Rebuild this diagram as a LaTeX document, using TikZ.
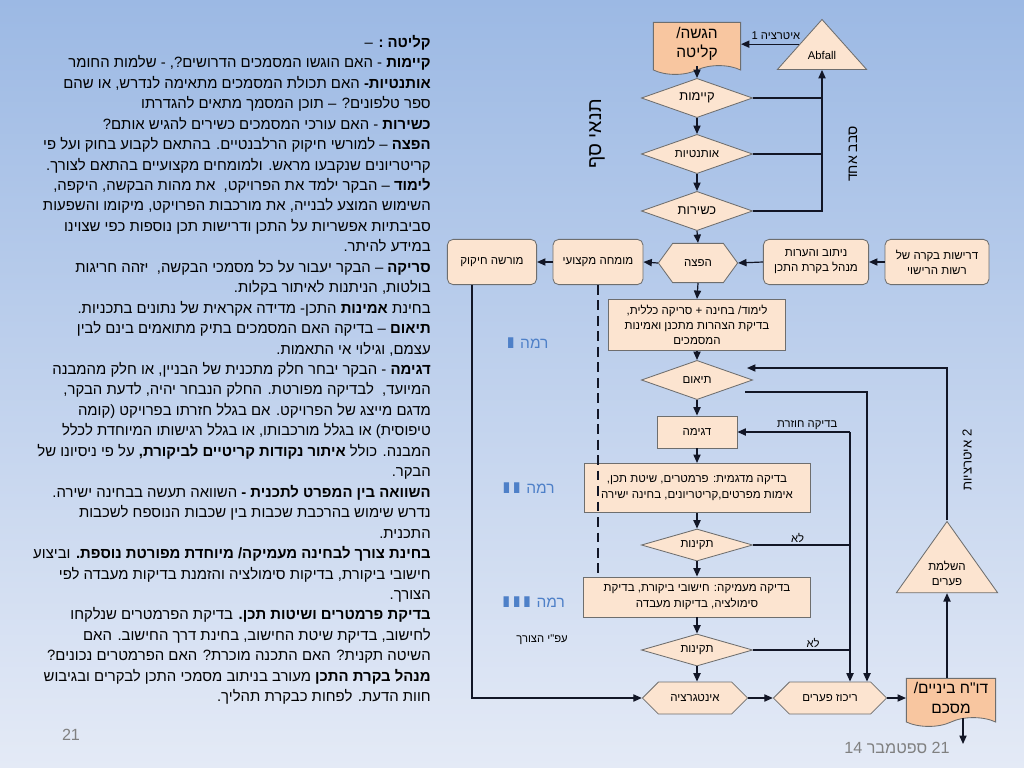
\documentclass[tikz,border=0pt]{standalone}
\usepackage{fontspec}
\setmainfont{Liberation Sans}
\newfontfamily\heb[Script=Hebrew,Ligatures=TeXOff]{Liberation Sans}
\newfontfamily\lvfont{DejaVu Sans}
\TeXXeTstate=1
\usetikzlibrary{arrows.meta,positioning,calc,shapes.geometric,shapes.symbols}

\definecolor{bgtop}{RGB}{156,185,228}
\definecolor{bgbot}{RGB}{228,234,246}
\definecolor{peach}{RGB}{252,228,208}
\definecolor{docfill}{RGB}{248,198,160}
\definecolor{edgegray}{RGB}{110,110,110}
\definecolor{linecol}{RGB}{18,22,38}
\definecolor{levelblue}{RGB}{78,128,200}
\definecolor{pagegray}{RGB}{128,128,128}

\newcommand{\hb}[1]{\beginR #1\endR}
\newcommand{\lvnum}[1]{\scalebox{1.8}[0.95]{\lvfont\bfseries #1}}

\begin{document}
\begin{tikzpicture}[x=0.025cm,y=-0.025cm,>={Triangle[length=2.1mm,width=1.8mm]},
 box/.style={draw=edgegray,line width=0.6pt,fill=peach,align=center,inner sep=1pt,
  font=\heb\fontsize{8.2}{10.8}\selectfont},
 rbox/.style={box,rounded corners=4pt,minimum height=1.13cm},
 dia/.style={box,diamond,aspect=3,inner sep=0pt,minimum width=2.78cm,minimum height=0.98cm},
 hexa/.style={box,signal,signal to=east and west,signal pointer angle=90,inner sep=0pt,minimum height=0.8cm},
 doc/.style={box,tape,tape bend top=none,tape bend bottom=in and out,tape bend height=0.22cm,
  fill=docfill,font=\heb\fontsize{11}{14}\selectfont},
 tri/.style={box,isosceles triangle,isosceles triangle stretches,shape border rotate=90,inner sep=0pt},
 conn/.style={draw=linecol,line width=0.85pt},
 lbl/.style={font=\heb\fontsize{8}{10}\selectfont,inner sep=1pt},
 level/.style={text=levelblue,inner sep=1pt,font=\heb\fontsize{11}{13}\selectfont}]
\shade[top color=bgtop,bottom color=bgbot] (0,0) rectangle (1024,768);
\useasboundingbox (0,0) rectangle (1024,768);

% notes on the left
\node[anchor=north east,align=right,inner sep=0pt,font=\heb\fontsize{10.6}{14.54}\selectfont] (notes) at (431,35) {%
\hb{\textbf{קליטה :} –}\\
\hb{\textbf{קיימות} - האם הוגשו המסמכים הדרושים?, - שלמות החומר}\\
\hb{\textbf{אותנטיות-} האם תכולת המסמכים מתאימה לנדרש, או שהם}\\
\hb{ספר טלפונים? – תוכן המסמך מתאים להגדרתו}\\
\hb{\textbf{כשירות} - האם עורכי המסמכים כשירים להגיש אותם?}\\
\hb{\textbf{הפצה} – למורשי חיקוק הרלבנטיים. בהתאם לקבוע בחוק ועל פי}\\
\hb{קריטריונים שנקבעו מראש. ולמומחים מקצועיים בהתאם לצורך.}\\
\hb{\textbf{לימוד} – הבקר ילמד את הפרויקט,\ \ את מהות הבקשה, היקפה,}\\
\hb{השימוש המוצע לבנייה, את מורכבות הפרויקט, מיקומו והשפעות}\\
\hb{סביבתיות אפשריות על התכן ודרישות תכן נוספות כפי שצוינו}\\
\hb{במידע להיתר.}\\
\hb{\textbf{סריקה} – הבקר יעבור על כל מסמכי הבקשה,\ \ יזהה חריגות}\\
\hb{בולטות, הניתנות לאיתור בקלות.}\\
\hb{בחינת \textbf{אמינות} התכן- מדידה אקראית של נתונים בתכניות.}\\
\hb{\textbf{תיאום} – בדיקה האם המסמכים בתיק מתואמים בינם לבין}\\
\hb{עצמם, וגילוי אי התאמות.}\\
\hb{\textbf{דגימה} - הבקר יבחר חלק מתכנית של הבניין, או חלק מהמבנה}\\
\hb{המיועד,\ \ לבדיקה מפורטת. החלק הנבחר יהיה, לדעת הבקר,}\\
\hb{מדגם מייצג של הפרויקט. אם בגלל חזרתו בפרויקט (קומה}\\
\hb{טיפוסית) או בגלל מורכבותו, או בגלל רגישותו המיוחדת לכלל}\\
\hb{המבנה. כולל \textbf{איתור נקודות קריטיים לביקורת,} על פי ניסיונו של}\\
\hb{הבקר.}\\
\hb{\textbf{השוואה בין המפרט לתכנית -} השוואה תעשה בבחינה ישירה.}\\
\hb{נדרש שימוש בהרכבת שכבות בין שכבות הנוספח לשכבות}\\
\hb{התכנית.}\\
\hb{\textbf{בחינת צורך לבחינה מעמיקה/ מיוחדת מפורטת נוספת.} וביצוע}\\
\hb{חישובי ביקורת, בדיקות סימולציה והזמנת בדיקות מעבדה לפי}\\
\hb{הצורך.}\\
\hb{\textbf{בדיקת פרמטרים ושיטות תכן.} בדיקת הפרמטרים שנלקחו}\\
\hb{לחישוב, בדיקת שיטת החישוב, בחינת דרך החישוב. האם}\\
\hb{השיטה תקנית? האם התכנה מוכרת? האם הפרמטרים נכונים?}\\
\hb{\textbf{מנהל בקרת התכן} מעורב בניתוב מסמכי התכן לבקרים ובגיבוש}\\
\hb{חוות הדעת. לפחות כבקרת תהליך.}};

% threshold checks
\node[doc,minimum width=2.18cm,minimum height=1.3cm] (doc1) at (697,44) {\hb{הגשה/}\\\hb{קליטה}};
\node[tri,minimum width=2.23cm,minimum height=1.25cm,font=\fontsize{8}{10}\selectfont] (abf) at (822,55) {Abfall};
\node[dia,font=\heb\fontsize{9.2}{11}\selectfont] (kiy) at (697,98) {\hb{קיימות}};
\node[dia] (aut) at (697,154) {\hb{אותנטיות}};
\node[dia,font=\heb\fontsize{9.2}{11}\selectfont] (ksh) at (697,211) {\hb{כשירות}};
\node[rotate=90,inner sep=0pt,font=\heb\fontsize{14}{16}\selectfont] (saf) at (597,134) {\hb{תנאי סף}};
\node[lbl,rotate=90,font=\heb\fontsize{10}{12}\selectfont] (sivuv) at (853,154) {\hb{סבב אחד}};

% distribution row
\node[hexa,minimum width=1.98cm,minimum height=0.98cm,signal pointer angle=108] (haf) at (698,263) {\hb{הפצה}};
\node[rbox,minimum width=2.63cm] (nit) at (816,262) {\hb{ניתוב והערות}\\\hb{מנהל בקרת התכן}};
\node[rbox,minimum width=2.6cm] (dri) at (937,262) {\hb{דרישות בקרה של}\\\hb{רשות הרישוי}};
\node[rbox,minimum width=2.25cm] (mum) at (598,262) {\hb{מומחה מקצועי}};
\node[rbox,minimum width=2.23cm] (mor) at (492,262) {\hb{מורשה חיקוק}};

% review levels
\node[box,minimum width=4.43cm,minimum height=1.28cm] (lim) at (697,325)
 {\hb{לימוד/ בחינה + סריקה כללית,}\\\hb{בדיקת הצהרות מתכנן ואמינות}\\\hb{המסמכים}};
\node[dia] (tia) at (697,380) {\hb{תיאום}};
\node[box,minimum width=2cm,minimum height=0.8cm] (dgi) at (697,432) {\hb{דגימה}};
\node[box,minimum width=5.65cm,minimum height=1.23cm] (mdg) at (697,488)
 {\hb{בדיקה מדגמית: פרמטרים, שיטת תכן,}\\\hb{אימות מפרטים,קריטריונים, בחינה ישירה}};
\node[dia,minimum height=0.8cm] (tk1) at (697,545) {\hb{תקינות}};
\node[box,minimum width=5.68cm,minimum height=1cm] (amk) at (697,597)
 {\hb{בדיקה מעמיקה: חישובי ביקורת, בדיקת}\\\hb{סימולציה, בדיקות מעבדה}};
\node[dia,minimum height=0.8cm] (tk2) at (697,650) {\hb{תקינות}};
\node[hexa,minimum width=2.63cm] (int) at (695,698) {\hb{אינטגרציה}};
\node[hexa,minimum width=2.83cm] (rik) at (830,698) {\hb{ריכוז פערים}};
\node[doc,minimum width=2.23cm,minimum height=1.2cm] (doc2) at (951,698) {\hb{דו"ח ביניים/}\\\hb{מסכם}};
\node[tri,minimum width=2.53cm,minimum height=1.78cm] (has) at (947,573) {\hb{השלמת}\\\hb{פערים}};
\node[lbl,rotate=90,font=\heb\fontsize{9.3}{11}\selectfont] (iter2) at (967,460) {\hb{2 איטרציות}};

\node[level] (lv1) at (527,343) {\lvnum{I}\ \hb{רמה}};
\node[level] (lv2) at (528,488) {\lvnum{II}\ \hb{רמה}};
\node[level] (lv3) at (533,602) {\lvnum{III}\ \hb{רמה}};
\node[lbl] (tsorech) at (542,640) {\hb{עפ"י הצורך}};
\node[text=pagegray,font=\fontsize{11.5}{13}\selectfont] (pnum) at (71,735) {21};
\node[text=pagegray,font=\heb\fontsize{11.5}{13}\selectfont] (date) at (897,748)
 {\hb{\beginL 21\endL{} ספטמבר \beginL 14\endL}};

\coordinate (chk) at (850,432);
\coordinate (out) at (963,744);

% connectors
\draw[conn,->] (abf.left side) -- (abf.left side -| doc1.east) node[lbl,pos=0.4,above=2pt] (iter1) {\hb{איטרציה 1}};
\draw[conn,->] (doc1.south) -- (kiy.north);
\draw[conn,->] (kiy.south) -- (aut.north);
\draw[conn,->] (aut.south) -- (ksh.north);
\draw[conn] (kiy.east) -- (kiy.east -| abf.lower side);
\draw[conn] (aut.east) -- (aut.east -| abf.lower side);
\draw[conn,->] (ksh.east) -| (abf.lower side);
\draw[conn,->] (ksh.south) -- (haf.north);
\draw[conn,->] (dri.west) -- (nit.east);
\draw[conn,->] (nit.west) -- (haf.east);
\draw[conn,->] (haf.west) -- (mum.east);
\draw[conn,->] (mum.west) -- (mor.east);
\draw[conn,->] (haf.south) -- (lim.north);
\draw[conn,->] (lim.south) -- (tia.north);
\draw[conn,->] (tia.south) -- (dgi.north);
\draw[conn,->] (dgi.south) -- (mdg.north);
\draw[conn,->] (mdg.south) -- (tk1.north);
\draw[conn,->] (tk1.south) -- (amk.north);
\draw[conn,->] (amk.south) -- (tk2.north);
\draw[conn,->] (tk2.south) -- (tk2.south |- int.north);
\draw[conn,->] (int.east) -- (rik.west);
\draw[conn,->] (rik.east) -- (doc2.west);
\draw[conn,->] (doc2.south -| out) -- (out);
\draw[conn,->] (has.lower side |- doc2.north) -- (has.lower side);
\draw[conn,->] (has.apex) |- ($(tia.east)+(-6,-12)$);
\draw[conn,->] ($(tia.east)+(-8,12)$) -| ($(rik.north)+(37,0)$);
\draw[conn,->] (chk) -- (chk -| dgi.east) node[lbl,pos=0.38,above] (again) {\hb{בדיקה חוזרת}};
\draw[conn,->] (chk) -- (chk |- rik.north);
\draw[conn] (tk1.east) -- (tk1.east -| chk) node[lbl,pos=0.46,above] (no1) {\hb{לא}};
\draw[conn] (tk2.east) -- (tk2.east -| chk) node[lbl,pos=0.62,above] (no2) {\hb{לא}};
\draw[conn,->] ($(mor.south)+(-20,0)$) |- (int.west);
\draw[conn,dash pattern=on 7pt off 4pt] (mum.south) -- (mum.south |- amk.north);
\end{tikzpicture}
\end{document}
